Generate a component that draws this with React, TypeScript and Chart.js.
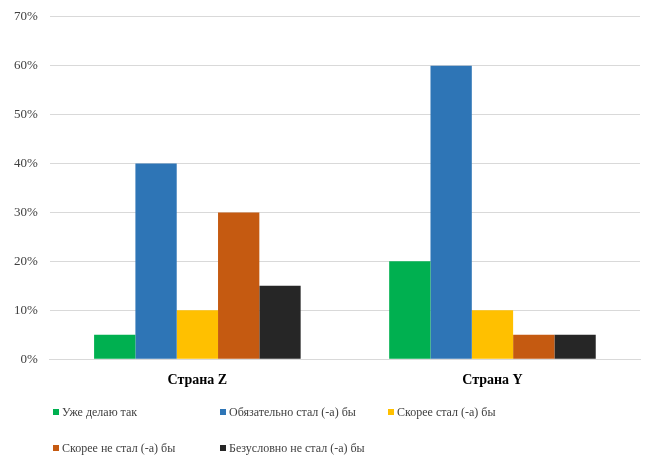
import React, { useEffect, useRef } from "react";
import { Chart, registerables } from "chart.js";

Chart.register(...registerables);

const categories = ["Страна Z", "Страна Y"];
const seriesNames = [
  "Уже делаю так",
  "Обязательно стал (-а) бы",
  "Скорее стал (-а) бы",
  "Скорее не стал (-а) бы",
  "Безусловно не стал (-а) бы",
];
const seriesColors = ["#00b050", "#2e75b6", "#ffc000", "#c55a11", "#262626"];
const seriesValues = [
  [5, 20],
  [40, 60],
  [10, 10],
  [30, 5],
  [15, 5],
];
const yTicks = [0, 10, 20, 30, 40, 50, 60, 70];

const legendPos = [
  { x: 53, y: 412 },
  { x: 220, y: 412 },
  { x: 388, y: 412 },
  { x: 53, y: 448 },
  { x: 220, y: 448 },
];

export default function App() {
  const ref = useRef<HTMLCanvasElement | null>(null);
  useEffect(() => {
    if (!ref.current) return;
    const chart = new Chart(ref.current, {
      type: "bar",
      data: {
        labels: categories,
        datasets: seriesNames.map((name, i) => ({
          label: name,
          data: seriesValues[i],
          backgroundColor: seriesColors[i],
          borderWidth: 0,
          categoryPercentage: 0.7,
          barPercentage: 1.0,
        })),
      },
      options: {
        animation: false,
        responsive: false,
        devicePixelRatio: 1,
        layout: { padding: { left: 2, right: 18, top: 2, bottom: 69 } },
        plugins: { legend: { display: false }, tooltip: { enabled: false } },
        scales: {
          x: {
            grid: { display: false, drawTicks: false },
            border: { color: "#d9d9d9", width: 1 },
            ticks: {
              padding: 13,
              color: "#000000",
              font: { family: "Liberation Serif", size: 14, weight: "bold" },
            },
          },
          y: {
            min: 0,
            max: 70,
            afterBuildTicks: (axis: any) => {
              axis.ticks = yTicks.map((v) => ({ value: v }));
            },
            grid: { color: "#d9d9d9", drawTicks: false },
            border: { display: false },
            ticks: {
              padding: 12,
              color: "#404040",
              font: { family: "Liberation Serif", size: 13 },
              callback: (v: any) => v + "%",
            },
          },
        },
      },
    });
    return () => chart.destroy();
  }, []);
  return (
    <div style={{ position: "absolute", left: 0, top: 0, width: 658, height: 471, background: "#fff", overflow: "hidden" }}>
      <canvas
        ref={ref}
        width={658}
        height={474}
        style={{ display: "block", position: "absolute", left: 0, top: -3 }}
      />
      {seriesNames.map((name, i) => (
        <div
          key={name}
          style={{
            position: "absolute",
            left: legendPos[i].x,
            top: legendPos[i].y - 9,
            height: 18,
            display: "flex",
            alignItems: "center",
            whiteSpace: "nowrap",
            fontFamily: "Liberation Serif",
            fontSize: 12,
            color: "#404040",
          }}
        >
          <span style={{ display: "inline-block", width: 6, height: 6, background: seriesColors[i], marginRight: 3 }} />
          <span>{name}</span>
        </div>
      ))}
    </div>
  );
}
